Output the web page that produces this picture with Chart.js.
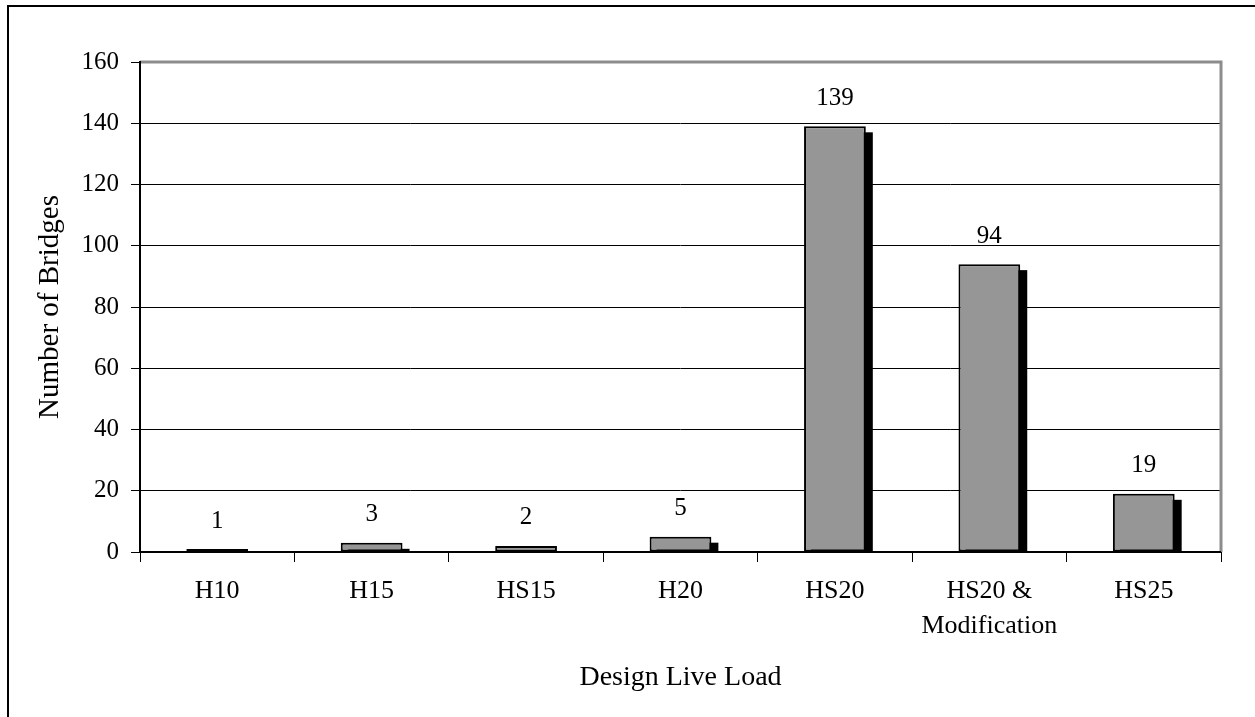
<!DOCTYPE html>
<html>
<head>
<meta charset="utf-8">
<script src="https://cdn.jsdelivr.net/npm/chart.js@4/dist/chart.umd.min.js"></script>
<style>
  html, body { margin: 0; padding: 0; background: #fff; }
  #wrap { position: relative; width: 1255px; height: 717px; overflow: hidden; }
  #frame { position: absolute; left: 7px; top: 5px; right: -10px; bottom: -10px;
           border-top: 2px solid #000; border-left: 2px solid #000; pointer-events: none; }
  canvas { position: absolute; left: 0; top: 0; }
</style>
</head>
<body>
<div id="wrap">
  <canvas id="chart" width="1255" height="717"></canvas>
  <div id="frame"></div>
</div>
<script>
// Bridge counts by design live load
const loadTypes = ['H10', 'H15', 'HS15', 'H20', 'HS20', ['HS20 &', 'Modification'], 'HS25'];
const bridgeCounts = [1, 3, 2, 5, 139, 94, 19];
const yTicks = [0, 20, 40, 60, 80, 100, 120, 140, 160];

const FONT = '"Liberation Serif", "Times New Roman", serif';

// Solid black shadow behind each bar, shifted right and down
const barShadow = {
    id: 'barShadow',
    beforeDatasetsDraw(chart) {
        const ctx = chart.ctx;
        const { left, right, top, bottom } = chart.chartArea;
        const meta = chart.getDatasetMeta(0);
        ctx.save();
        ctx.beginPath();
        ctx.rect(left, top, right - left, bottom - top);
        ctx.clip();
        ctx.fillStyle = '#000';
        meta.data.forEach(bar => {
            const p = bar.getProps(['x', 'y', 'base', 'width'], true);
            ctx.fillRect(p.x - p.width / 2 + 7, p.y + 6, p.width, p.base - p.y);
        });
        ctx.restore();
    }
};

// Value printed above each bar
const valueLabels = {
    id: 'valueLabels',
    afterDatasetsDraw(chart) {
        const ctx = chart.ctx;
        const meta = chart.getDatasetMeta(0);
        ctx.save();
        ctx.font = '25px ' + FONT;
        ctx.fillStyle = '#000';
        ctx.textAlign = 'center';
        ctx.textBaseline = 'middle';
        meta.data.forEach((bar, i) => {
            ctx.fillText(String(bridgeCounts[i]), bar.x, bar.y - 28);
        });
        ctx.restore();
    }
};

// Grey plot-area border on top and right, black axis lines on left and bottom
const plotBorder = {
    id: 'plotBorder',
    beforeDatasetsDraw(chart) {
        const { left, right, top, bottom } = chart.chartArea;
        const ctx = chart.ctx;
        ctx.save();
        ctx.strokeStyle = '#8c8c8c';
        ctx.lineWidth = 3;
        ctx.beginPath();
        ctx.moveTo(left, top);
        ctx.lineTo(right, top);
        ctx.lineTo(right, bottom);
        ctx.stroke();
        ctx.restore();
    },
    afterDatasetsDraw(chart) {
        const { left, right, top, bottom } = chart.chartArea;
        const ctx = chart.ctx;
        ctx.save();
        ctx.strokeStyle = '#000';
        ctx.lineWidth = 2;
        ctx.beginPath();
        ctx.moveTo(left, top - 1);
        ctx.lineTo(left, bottom);
        ctx.lineTo(right, bottom);
        ctx.stroke();
        ctx.restore();
    }
};

new Chart(document.getElementById('chart'), {
    type: 'bar',
    data: {
        labels: loadTypes,
        datasets: [{
            data: bridgeCounts,
            backgroundColor: '#969696',
            borderColor: '#000',
            borderWidth: 2,
            borderSkipped: false,
            barPercentage: 0.8,
            categoryPercentage: 0.5
        }]
    },
    options: {
        responsive: false,
        animation: false,
        layout: { padding: { left: 8, right: 34, top: 62, bottom: 10 } },
        plugins: {
            legend: { display: false },
            tooltip: { enabled: false }
        },
        scales: {
            x: {
                offset: true,
                afterFit(axis) { axis.height = 155; },
                grid: {
                    offset: true,
                    drawOnChartArea: false,
                    drawTicks: true,
                    tickLength: 10,
                    color: '#000',
                    lineWidth: 1
                },
                border: { display: false },
                ticks: {
                    color: '#000',
                    font: { family: FONT, size: 26, lineHeight: 1.35 },
                    padding: 12,
                    maxRotation: 0,
                    autoSkip: false
                },
                title: {
                    display: true,
                    text: 'Design Live Load',
                    color: '#000',
                    font: { family: FONT, size: 28 },
                    padding: { top: 0, bottom: 13 }
                }
            },
            y: {
                min: 0,
                max: 160,
                afterFit(axis) { axis.width = 132; },
                afterBuildTicks(axis) {
                    axis.ticks = yTicks.map(v => ({ value: v }));
                },
                grid: {
                    color: '#000',
                    lineWidth: 1,
                    drawTicks: true,
                    tickLength: 9
                },
                border: { display: false },
                ticks: {
                    color: '#000',
                    font: { family: FONT, size: 25 },
                    padding: 12
                },
                title: {
                    display: true,
                    text: 'Number of Bridges',
                    color: '#000',
                    font: { family: FONT, size: 29 },
                    padding: { top: 25, bottom: 0 }
                }
            }
        }
    },
    plugins: [plotBorder, barShadow, valueLabels]
});
</script>
</body>
</html>
